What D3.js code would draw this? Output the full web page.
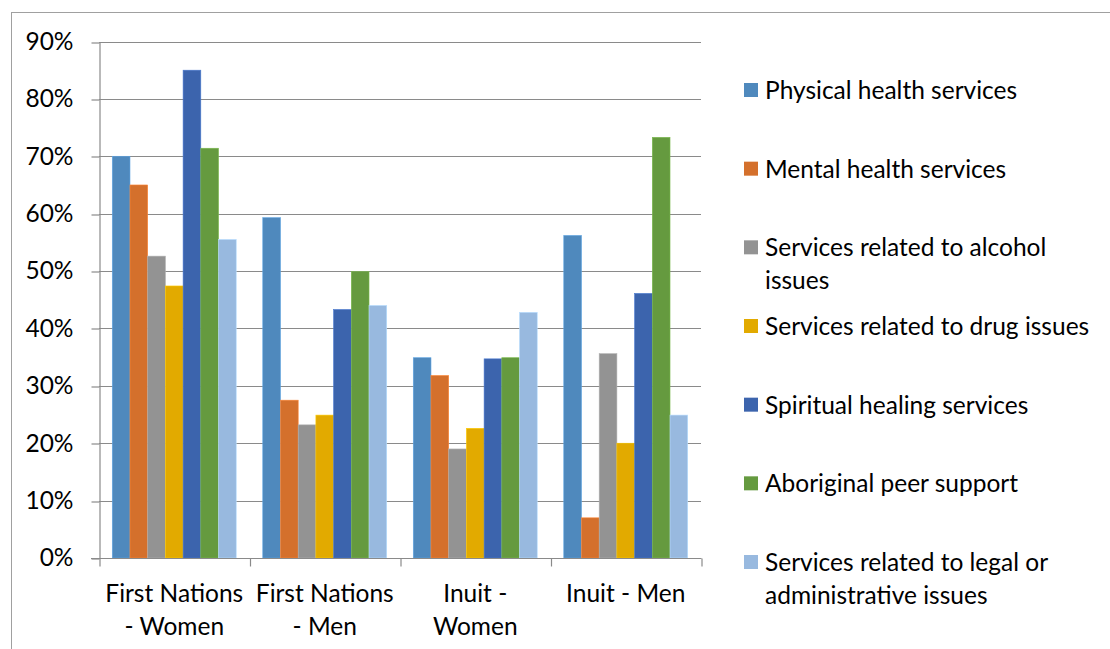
<!DOCTYPE html>
<html>
<head>
<meta charset="utf-8">
<script src="https://cdn.jsdelivr.net/npm/d3@7"></script>
<style>
  html, body { margin: 0; padding: 0; background: #fff; }
  svg { display: block; }
  text { font-family: Lato, "Open Sans", sans-serif; fill: #000; }
</style>
</head>
<body>
<svg id="chart" width="1110" height="649"></svg>
<script>
// ---- data ----
const categories = ["First Nations - Women", "First Nations - Men", "Inuit - Women", "Inuit - Men"];
const categoryLines = [["First Nations", "- Women"], ["First Nations", "- Men"], ["Inuit -", "Women"], ["Inuit - Men"]];
const seriesNames = [
  "Physical health services",
  "Mental health services",
  "Services related to alcohol issues",
  "Services related to drug issues",
  "Spiritual healing services",
  "Aboriginal peer support",
  "Services related to legal or administrative issues"
];
const legendLines = [
  ["Physical health services"],
  ["Mental health services"],
  ["Services related to alcohol", "issues"],
  ["Services related to drug issues"],
  ["Spiritual healing services"],
  ["Aboriginal peer support"],
  ["Services related to legal or", "administrative issues"]
];
const colors = ["#4F89BD", "#D4702C", "#939393", "#E2AA00", "#3C64AD", "#659A3F", "#98B9DF"];
const physicalHealth = [70.0, 59.3, 34.9, 56.2];
const mentalHealth   = [65.0, 27.5, 31.8, 7.0];
const alcoholIssues  = [52.6, 23.2, 19.0, 35.6];
const drugIssues     = [47.4, 24.9, 22.6, 20.0];
const spiritual      = [85.0, 43.3, 34.7, 46.1];
const peerSupport    = [71.4, 49.9, 34.9, 73.3];
const legalAdmin     = [55.5, 44.0, 42.8, 24.9];
const seriesValues = [physicalHealth, mentalHealth, alcoholIssues, drugIssues, spiritual, peerSupport, legalAdmin];
const yTicks = [0, 10, 20, 30, 40, 50, 60, 70, 80, 90];

// ---- drawing ----
const svg = d3.select("#chart");
const FONT = 24.5;
const gridColor = "#8a8a8a";

// outer frame
svg.append("rect").attr("x", 11.5).attr("y", 12.5).attr("width", 1120).attr("height", 660)
  .attr("fill", "none").attr("stroke", "#a0a0a0").attr("stroke-width", 1);

const plotL = 99, plotR = 701, plotT = 41.5, plotB = 558;

const y = d3.scaleLinear().domain([0, 90]).range([plotB, plotT]);
const x0 = d3.scaleBand().domain(categories).range([plotL, plotR]).paddingInner(0).paddingOuter(0);
const x1 = d3.scaleBand().domain(seriesNames).range([0, x0.bandwidth()]).paddingInner(0).paddingOuter(0.75);

// gridlines
svg.append("g").selectAll("line").data(yTicks.filter(d => d > 0)).join("line")
  .attr("x1", plotL).attr("x2", plotR)
  .attr("y1", d => Math.round(y(d)) + 0.5).attr("y2", d => Math.round(y(d)) + 0.5)
  .attr("stroke", gridColor).attr("stroke-width", 1.2);

// bars
const barData = [];
seriesNames.forEach((s, si) => {
  categories.forEach((c, ci) => {
    barData.push({ series: s, cat: c, value: seriesValues[si][ci], color: colors[si] });
  });
});
svg.append("g").selectAll("rect").data(barData).join("rect")
  .attr("x", d => x0(d.cat) + x1(d.series))
  .attr("y", d => y(d.value))
  .attr("width", x1.bandwidth())
  .attr("height", d => y(0) - y(d.value))
  .attr("fill", d => d.color)
  .attr("stroke", d => d3.color(d.color).brighter(0.5))
  .attr("stroke-width", 0.6);

// y axis
const yAxis = d3.axisLeft(y).tickValues(yTicks).tickSize(8).tickSizeOuter(0).tickPadding(18)
  .tickFormat(d => d + "%");
const gy = svg.append("g").attr("transform", `translate(${plotL + 0.5},0)`).call(yAxis);
gy.selectAll("line").attr("stroke", gridColor).attr("stroke-width", 1.2)
  .attr("transform", function(d) { return `translate(0,${Math.round(y(d)) + 0.5 - y(d)})`; });
gy.select(".domain").attr("stroke", gridColor).attr("stroke-width", 1.2);
gy.selectAll("text").attr("font-size", FONT).attr("font-family", "Lato, 'Open Sans', sans-serif").attr("fill", "#000");

// x axis with boundary ticks
const bScale = d3.scaleLinear().domain([0, categories.length]).range([plotL, plotR]);
const xAxis = d3.axisBottom(bScale).tickValues(d3.range(categories.length + 1)).tickSize(8).tickSizeOuter(0).tickFormat("");
const gx = svg.append("g").attr("transform", `translate(0.5,${Math.round(plotB) + 0.5})`).call(xAxis);
gx.selectAll("line").attr("stroke", gridColor).attr("stroke-width", 1.2);
gx.select(".domain").attr("stroke", gridColor).attr("stroke-width", 1.2).attr("d", `M${plotL - 8 - 0.5},0H${plotR}`);

// category labels
const catG = svg.append("g");
categories.forEach((c, i) => {
  const cx = x0(c) + x0.bandwidth() / 2;
  categoryLines[i].forEach((line, li) => {
    catG.append("text").attr("x", cx).attr("y", 592.5 + li * 33)
      .attr("text-anchor", "middle").attr("dominant-baseline", "central")
      .attr("font-size", FONT).text(line);
  });
});

// legend
const legG = svg.append("g");
const legendY = d3.scalePoint().domain(seriesNames).range([90, 562]);
seriesNames.forEach((s, i) => {
  const cy = legendY(s);
  legG.append("rect").attr("x", 744).attr("y", cy - 7).attr("width", 14).attr("height", 14).attr("fill", colors[i]);
  legendLines[i].forEach((line, li) => {
    legG.append("text").attr("x", 765).attr("y", cy - 0.5 + li * 33)
      .attr("dominant-baseline", "central").attr("font-size", FONT).text(line);
  });
});
</script>
</body>
</html>
